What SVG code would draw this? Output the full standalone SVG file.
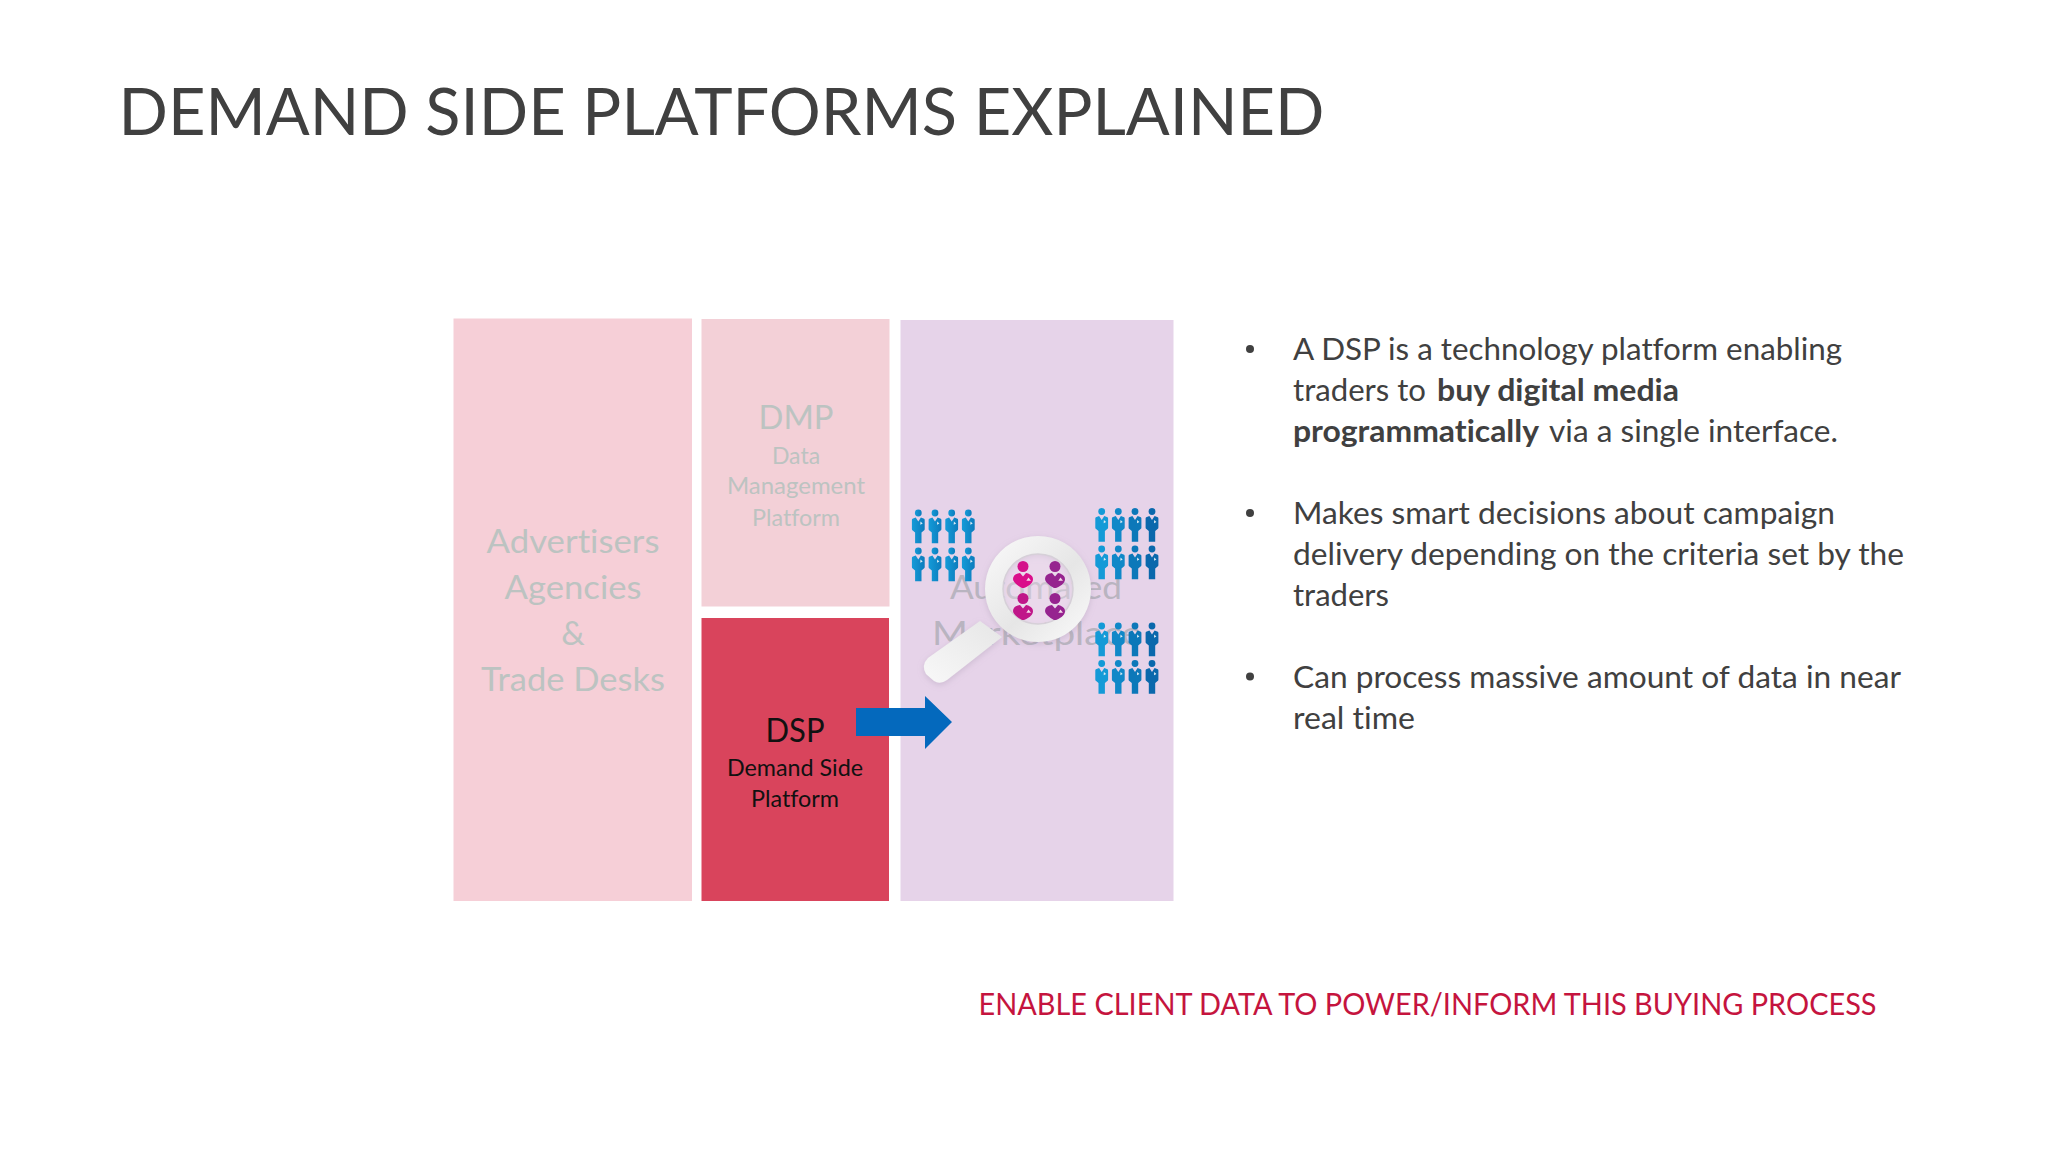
<svg xmlns="http://www.w3.org/2000/svg" width="2048" height="1152" viewBox="0 0 2048 1152">
<style>
text{font-family:Lato,"Open Sans",sans-serif;font-variant-ligatures:none}
.title{font-size:66px;fill:#404040}
.body{font-size:30.5px;fill:#404040}
.b{font-weight:700}
.big{font-size:33px;fill:#bcc3c1;text-anchor:middle}
.dm{font-size:33px;fill:#bcc3c1;text-anchor:middle}
.sm{font-size:23px;fill:#bcc3c1;text-anchor:middle}
.dk{fill:#111;text-anchor:middle}
.am{font-size:33px;fill:#b9b4c0;text-anchor:middle}
.red{font-size:30.5px;fill:#c5143e}
</style>
<defs>
<linearGradient id="blueL" x1="0" x2="1" y1="0" y2="0"><stop offset="0" stop-color="#149bd8"/><stop offset="1" stop-color="#0d7cbd"/></linearGradient>
<linearGradient id="glass" x1="0" y1="0" x2="1" y2="1"><stop offset="0" stop-color="#fafafa"/><stop offset="0.55" stop-color="#e6e6e6"/><stop offset="1" stop-color="#fbfbfb"/></linearGradient>
<linearGradient id="handle" x1="1" y1="0" x2="0" y2="1"><stop offset="0" stop-color="#e6e6e6"/><stop offset="1" stop-color="#f8f8f8"/></linearGradient>
<filter id="soft" x="-20%" y="-20%" width="140%" height="140%"><feDropShadow dx="0" dy="2" stdDeviation="3" flood-color="#a090a8" flood-opacity=".35"/></filter>
<g id="man">
<circle cx="0" cy="0" r="3.4"/>
<path d="M-2.600 4.500-5.800 5.800Q-6.400 6.100-6.400 7V16Q-6.400 17-5.600 17.500L-3.200 19.500V30.200H3.200V19.500L5.600 17.500Q6.400 17 6.400 16V7Q6.400 6.100 5.800 5.800L2.600 4.500 0 8.500Z"/>
<path d="M2.200 8.500 4.400 10.600 2 11.800Z" fill="#dcecf5"/>
</g>
<g id="woman">
<path d="M-3 7Q-10 8-10 13-10 17-1 22H1C8 19 10 16 10 13 10 8 3 7 3 7L0 10.500Z"/>
<path d="M5.500 11.500 8 14.800H3.300Z" fill="#f3dbe9"/>
</g>
</defs>
<rect width="2048" height="1152" fill="#fff"/>
<text id="title" class="title" x="118.500" y="135" textLength="1206" lengthAdjust="spacingAndGlyphs">DEMAND SIDE PLATFORMS EXPLAINED</text>

<g id="node-advertisers">
<rect x="453.500" y="318.500" width="238.500" height="582.500" fill="#f6cfd7"/>
<text class="big" x="573" y="553" textLength="173" lengthAdjust="spacingAndGlyphs">Advertisers</text>
<text class="big" x="573" y="599" textLength="137" lengthAdjust="spacingAndGlyphs">Agencies</text>
<text class="big" x="573" y="645">&amp;</text>
<text class="big" x="573" y="691" textLength="184" lengthAdjust="spacingAndGlyphs">Trade Desks</text>
</g>
<g id="node-dmp">
<rect x="701.500" y="319" width="188" height="287.500" fill="#f3d0d7"/>
<text class="dm" x="796" y="429" textLength="75" lengthAdjust="spacingAndGlyphs">DMP</text>
<text class="sm" x="796" y="464">Data</text>
<text class="sm" x="796" y="494" textLength="138" lengthAdjust="spacingAndGlyphs">Management</text>
<text class="sm" x="796" y="525.500" textLength="88" lengthAdjust="spacingAndGlyphs">Platform</text>
</g>
<g id="node-dsp">
<rect x="701.500" y="618" width="187.500" height="283" fill="#d9445c"/>
<text class="dk" font-size="33" x="795" y="741.500" textLength="59" lengthAdjust="spacingAndGlyphs">DSP</text>
<text class="dk" font-size="23" x="795" y="775.500" textLength="136" lengthAdjust="spacingAndGlyphs">Demand Side</text>
<text class="dk" font-size="23" x="795" y="806.500" textLength="88" lengthAdjust="spacingAndGlyphs">Platform</text>
</g>
<g id="node-marketplace">
<rect x="900.500" y="320" width="273" height="581" fill="#e6d3e9"/>
<text class="am" x="1036" y="599" textLength="172" lengthAdjust="spacingAndGlyphs">Automated</text>
<text class="am" x="1037" y="645" textLength="210" lengthAdjust="spacingAndGlyphs">Marketplace</text>
<g id="crowd-left" fill="url(#blueL)">
<use href="#man" x="918.300" y="513"/><use href="#man" x="935" y="513"/><use href="#man" x="951.700" y="513"/><use href="#man" x="968.300" y="513"/>
<use href="#man" x="918.300" y="551"/><use href="#man" x="935" y="551"/><use href="#man" x="951.700" y="551"/><use href="#man" x="968.300" y="551"/>
</g>
<g id="crowd-right">
<use href="#man" x="1101.700" y="511.500" fill="#149ad7"/><use href="#man" x="1118.300" y="511.500" fill="#1088c8"/><use href="#man" x="1135" y="511.500" fill="#0c78b9"/><use href="#man" x="1152" y="511.500" fill="#0a68ac"/>
<use href="#man" x="1101.700" y="549" fill="#149ad7"/><use href="#man" x="1118.300" y="549" fill="#1088c8"/><use href="#man" x="1135" y="549" fill="#0c78b9"/><use href="#man" x="1152" y="549" fill="#0a68ac"/>
<use href="#man" x="1101.700" y="626" fill="#149ad7"/><use href="#man" x="1118.300" y="626" fill="#1088c8"/><use href="#man" x="1135" y="626" fill="#0c78b9"/><use href="#man" x="1152" y="626" fill="#0a68ac"/>
<use href="#man" x="1101.700" y="663.500" fill="#149ad7"/><use href="#man" x="1118.300" y="663.500" fill="#1088c8"/><use href="#man" x="1135" y="663.500" fill="#0c78b9"/><use href="#man" x="1152" y="663.500" fill="#0a68ac"/>
</g>
<g id="magnifier">
<path d="M980 621 928 658Q921 665 926 674L934 681Q940 685 947 680L1002 637Z" fill="url(#handle)" filter="url(#soft)"/>
<path fill-rule="evenodd" d="M1038 536a53 53 0 1 0 .01 0ZM1038 554a35 35 0 1 1-.01 0Z" fill="url(#glass)" filter="url(#soft)"/>
<circle cx="1038" cy="589" r="35" fill="#f1e6f1" fill-opacity=".35" stroke="#d6d0d8" stroke-width="1.500"/>
<circle cx="1023" cy="566.500" r="5.500" fill="#d4128a"/>
<circle cx="1055" cy="566.500" r="5.500" fill="#96238f"/>
<circle cx="1023" cy="598.500" r="5.500" fill="#c01689"/>
<circle cx="1055" cy="598.500" r="5.500" fill="#96238f"/>
<use href="#woman" x="1023" y="566" fill="#da0e8b"/>
<use href="#woman" x="1055" y="566" fill="#96238f"/>
<use href="#woman" x="1023" y="598" fill="#c01689"/>
<use href="#woman" x="1055" y="598" fill="#96238f"/>
</g>
</g>
<g id="connectors">
<path d="M856 708H925V696L952 722 925 749V736H856Z" fill="#0469bd"/>
</g>
<g id="bullets">
<circle cx="1250" cy="349" r="4" fill="#404040"/>
<text class="body" x="1293" y="360" textLength="549" lengthAdjust="spacingAndGlyphs">A DSP is a technology platform enabling</text>
<text class="body" x="1293" y="401" textLength="133" lengthAdjust="spacingAndGlyphs">traders to</text>
<text class="body b" x="1437" y="401" textLength="242" lengthAdjust="spacingAndGlyphs">buy digital media</text>
<text class="body b" x="1293" y="442" textLength="246" lengthAdjust="spacingAndGlyphs">programmatically</text>
<text class="body" x="1549" y="442" textLength="289" lengthAdjust="spacingAndGlyphs">via a single interface.</text>
<circle cx="1250" cy="513" r="4" fill="#404040"/>
<text class="body" x="1293" y="524" textLength="542" lengthAdjust="spacingAndGlyphs">Makes smart decisions about campaign</text>
<text class="body" x="1293" y="565" textLength="611" lengthAdjust="spacingAndGlyphs">delivery depending on the criteria set by the</text>
<text class="body" x="1293" y="606" textLength="96" lengthAdjust="spacingAndGlyphs">traders</text>
<circle cx="1250" cy="676.500" r="4" fill="#404040"/>
<text class="body" x="1293" y="688" textLength="608" lengthAdjust="spacingAndGlyphs">Can process massive amount of data in near</text>
<text class="body" x="1293" y="728.500" textLength="122" lengthAdjust="spacingAndGlyphs">real time</text>
</g>
<text id="note" class="red" x="978.500" y="1015" textLength="898" lengthAdjust="spacingAndGlyphs">ENABLE CLIENT DATA TO POWER/INFORM THIS BUYING PROCESS</text>
</svg>
